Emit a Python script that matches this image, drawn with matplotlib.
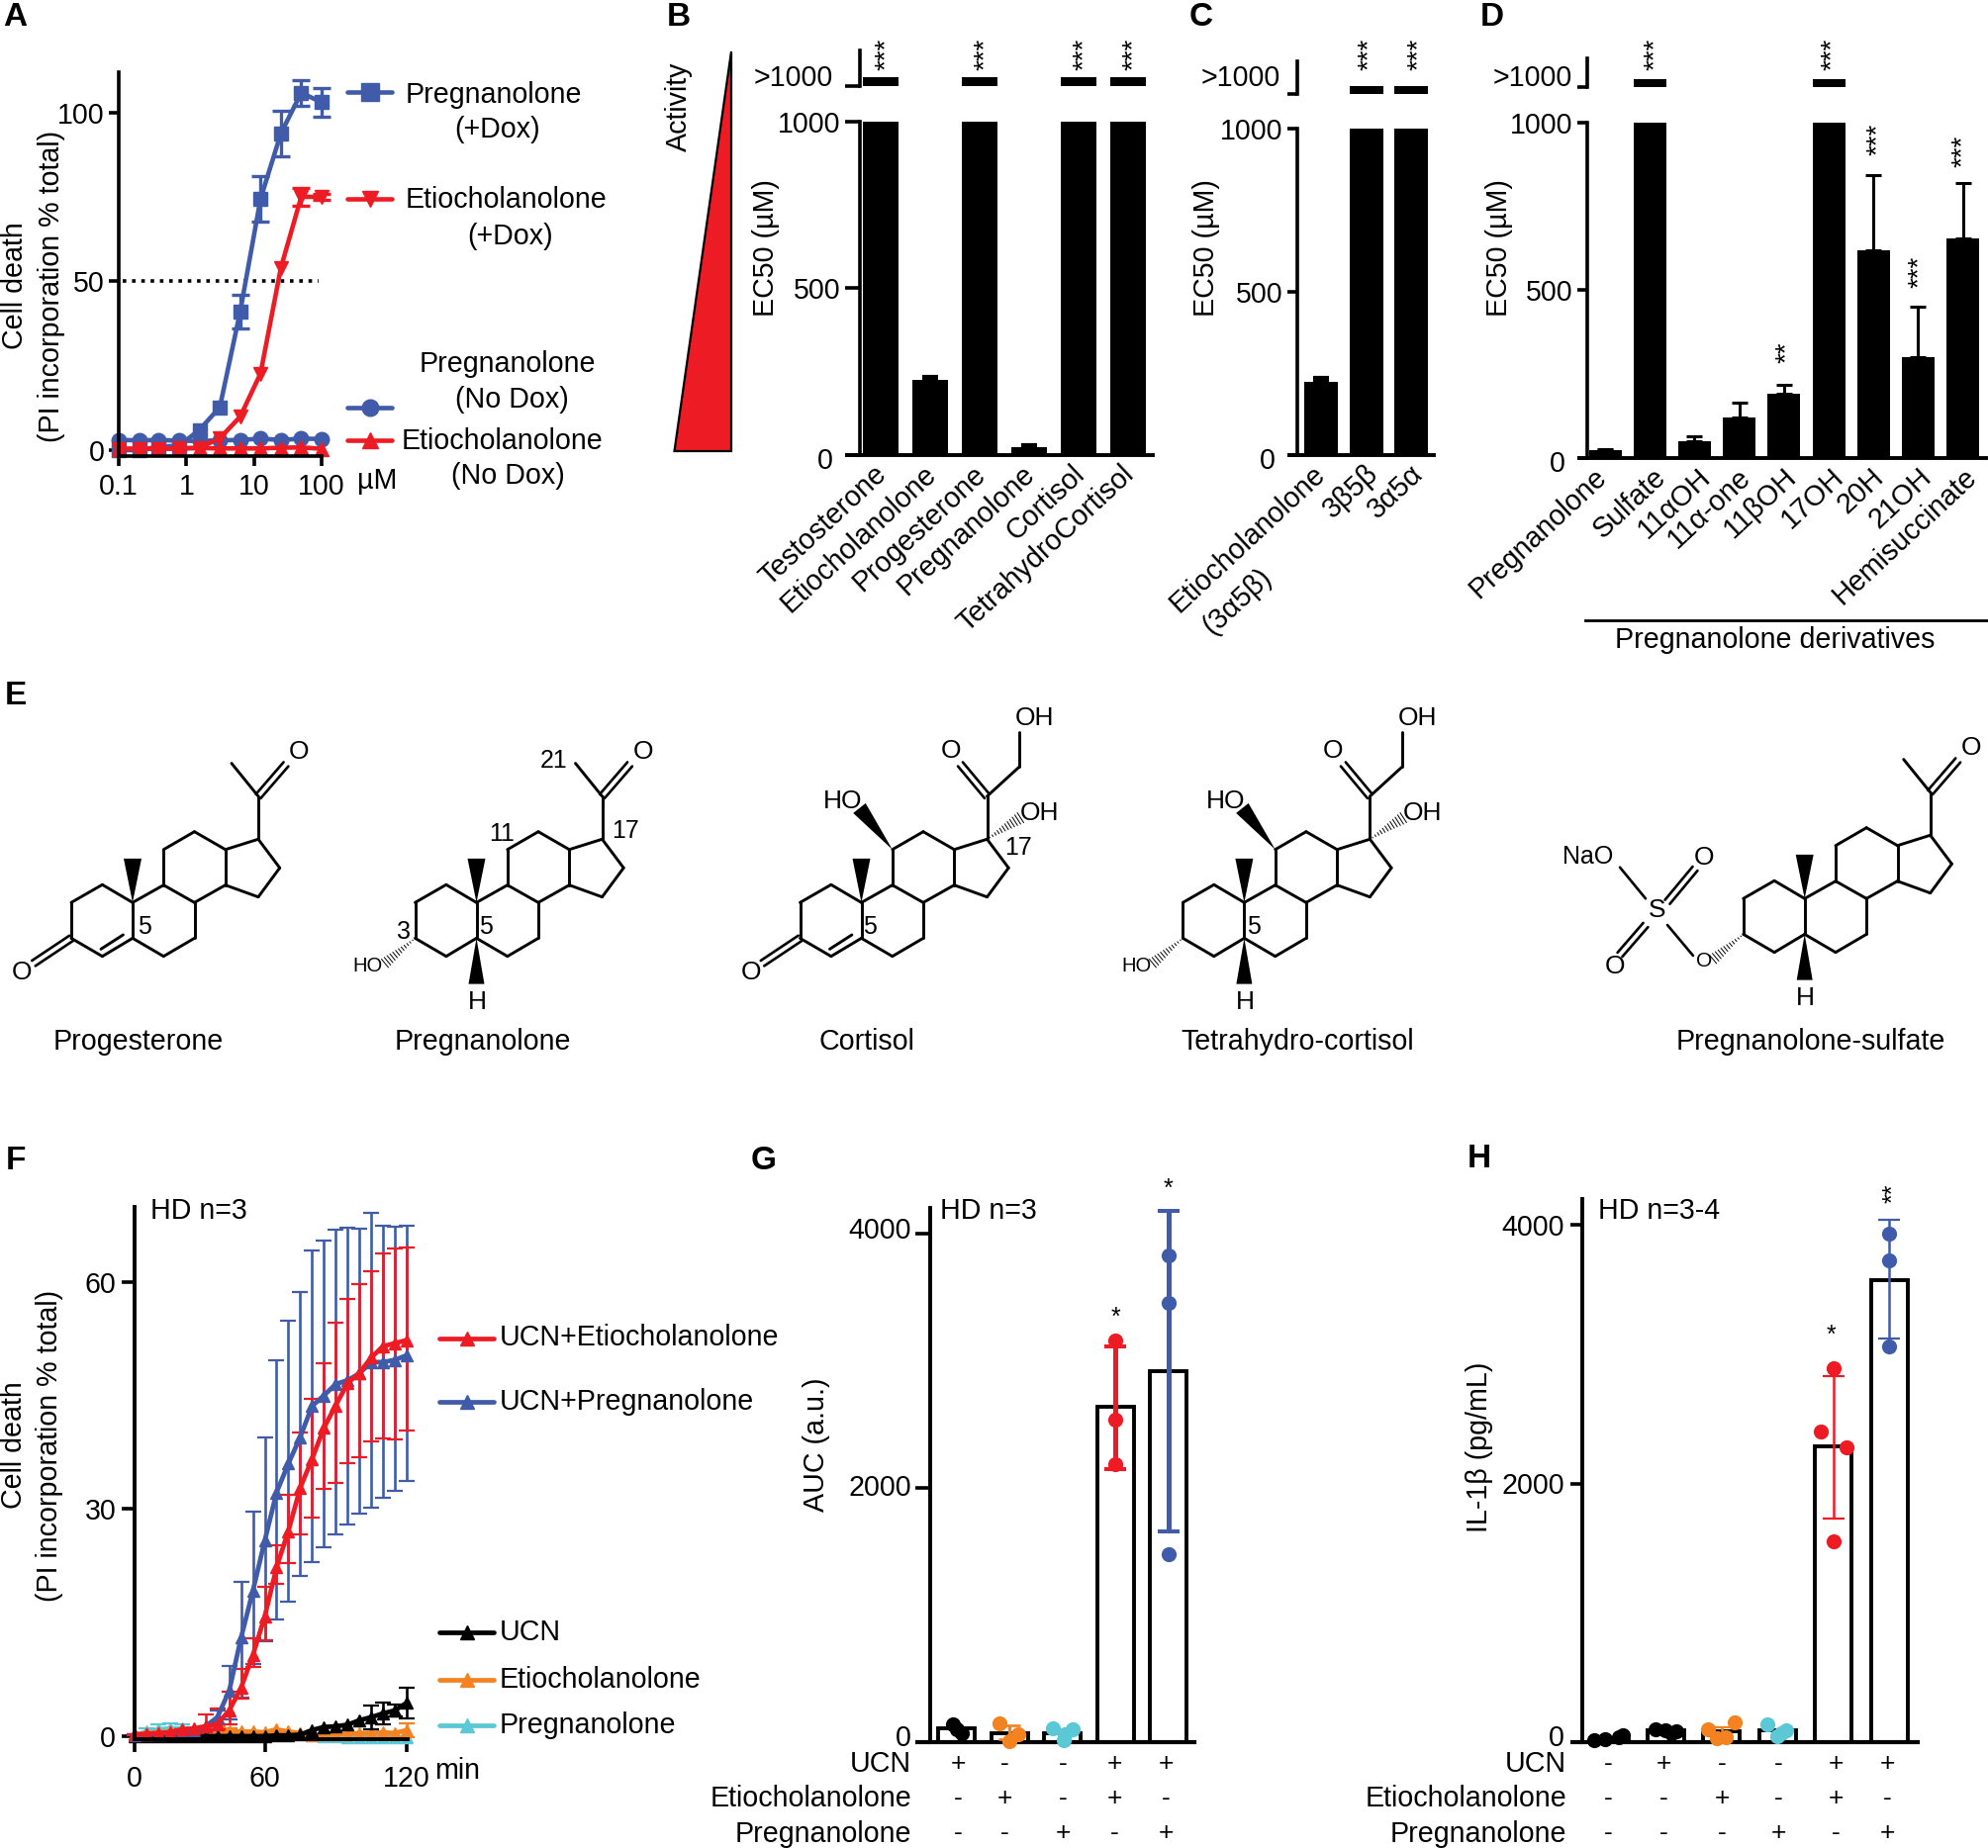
import numpy as np
import matplotlib
matplotlib.use('Agg')
import matplotlib.pyplot as plt
from matplotlib.patches import Polygon
from matplotlib.transforms import ScaledTranslation

plt.rcParams['font.family'] = ['Liberation Sans', 'DejaVu Sans']
plt.rcParams['font.size'] = 20.6

BLUE = '#3F5BA9'
RED = '#ED1C24'
ORANGE = '#F58220'
CYAN = '#5BC8D5'
W, H = 2009, 1868
FS = 20.6

# panel A
doses = [0.1, 0.2, 0.39, 0.78, 1.56, 3.125, 6.25, 12.5, 25, 50, 100]
a_preg_dox = [0, 0, 1, 1.3, 6, 12.7, 41, 74.4, 93.8, 105.8, 103]
a_preg_dox_err = [0, 0, 0, 0, 0, 0, 5, 6.6, 6.7, 3.8, 4.3]
a_etio_dox = [0.3, 0.4, 0.4, 0.5, 0.7, 3.5, 9.9, 22.7, 54, 75, 75]
a_etio_dox_err = [0, 0, 0, 0, 0, 0, 0, 0, 0, 2.6, 0.8]
a_preg_nodox = [3, 2.9, 3, 2.8, 2.7, 2.9, 3, 3.4, 3, 3.4, 3.3]
a_etio_nodox = [0.4, 0.4, 0.4, 0.5, 0.6, 0.5, 0.5, 0.5, 0.7, 0.8, 0.4]

# panels B, C, D (values above 1000 sit on the broken part of the axis)
b_names = ['Testosterone', 'Etiocholanolone', 'Progesterone', 'Pregnanolone', 'Cortisol', 'TetrahydroCortisol']
b_vals = [1127, 225, 1127, 25, 1127, 1127]
b_errs = [0, 10, 0, 4, 0, 0]
c_names = ['Etiocholanolone', '3β5β', '3α5α']
c_vals = [225, 1124, 1124]
c_errs = [10, 0, 0]
d_names = ['Pregnanolone', 'Sulfate', '11αOH', '11α-one', '11βOH', '17OH', '20H', '21OH', 'Hemisuccinate']
d_vals = [23, 1125, 51, 121, 191, 1125, 620, 301, 655]
d_errs = [4, 0, 14, 45, 26, 0, 223, 151, 164]

# panel F
f_t = [5, 10, 15, 20, 25, 30, 35, 40, 45, 50, 55, 60, 65, 70, 75, 80, 85, 90, 95, 100, 105, 110, 115, 120]
f_red = [0.2, 0.3, 0.4, 0.5, 0.9, 1.0, 1.3, 1.6, 3.4, 6.4, 10.7, 15.8, 22.3, 27.1, 32.8, 36.6, 40.7, 43.7, 46.6, 48, 50, 51.5, 51.9, 52.3]
f_red_up = [0.2, 0.3, 0.4, 0.5, 0.9, 1.0, 2.9, 3.7, 5.9, 8.9, 12.9, 19.7, 25.2, 31.9, 40.1, 44.6, 49.2, 54.6, 57.7, 59.7, 61.4, 63.8, 64.4, 64.6]
f_red_lo = [0.2, 0.3, 0.4, 0.5, 0.9, 1.0, 0.8, 0.9, 1.6, 5, 9.2, 12.7, 20.1, 22.8, 26.6, 28.9, 32.6, 33.5, 36, 36.9, 38.9, 39.3, 39.2, 40.4]
f_blue = [0.1, 0.2, 0.3, 0.4, 0.5, 0.6, 1.3, 2.5, 6, 13, 19.2, 25.8, 32.2, 36, 39.5, 43.6, 45, 46.5, 47, 47.9, 49.4, 49.4, 49.7, 50.3]
f_blue_up = [0.1, 0.2, 0.3, 0.4, 0.5, 0.6, 1.3, 3.4, 9.3, 20.4, 29.7, 39.5, 49.7, 54.9, 58.7, 64.2, 65.5, 66.9, 67.2, 67, 69.1, 67.4, 67.3, 67.4]
f_blue_lo = [0.1, 0.2, 0.3, 0.4, 0.5, 0.6, 1.3, 1.6, 2.2, 5.1, 9.5, 12.6, 15.4, 17.8, 21.1, 23, 25, 26.7, 28, 29.4, 30.2, 31.5, 32.4, 33.7]
f_black = [0, 0, 0, 0, 0, 0, 0, 0, 0, 0, 0, 0, 0.1, 0.1, 0.2, 0.8, 1.2, 1.3, 1.5, 2.1, 2.5, 3, 3.4, 4.4]
f_black_err = [0, 0, 0, 0, 0, 0, 0, 0, 0, 0, 0, 0, 0, 0, 0, 0, 0, 0, 0, 0, 1.6, 1.4, 0.8, 2]
f_orange = [0.2, 0.4, 0.5, 0.6, 0.6, 0.7, 0.7, 0.8, 0.7, 0.6, 0.6, 0.5, 0.9, 0.6, 0.4, 0.1, 0.2, 0.3, 0.3, 0.4, 0.4, 0.5, 0.4, 0.8]
f_orange_err = [0, 0, 0, 0, 0, 0, 0.3, 0.5, 0.3, 0, 0, 0, 0, 0, 0, 0, 0, 0, 0, 0, 0, 0, 0, 0.9]
f_cyan = [0.1, 0.6, 0.9, 1.0, 1.0, 0.9, 0.8, 0.5, 0.4, 0.5, 0.4, 0.3, 0.3, 0.3, 0.4, 0.1, 0, 0, -0.1, -0.1, -0.1, -0.1, -0.1, -0.2]
f_cyan_err = [0, 0.4, 0.7, 0.7, 0.5, 0.3, 0, 0, 0, 0, 0, 0, 0, 0, 0, 0, 0, 0, 0, 0, 0, 0, 0, 0]

# panels G, H
g_bars = [112, 72, 72, 2636, 2922]
g_points = [[137, 101, 72], [145, 65, 11], [108, 100, 60, 15], [3157, 2535, 2188], [3826, 3454, 1476]]
g_point_dx = [[-3, 0, 4], [-8, 7, 0], [-7, 8, 2, 1], [0, 0, 0], [0, 0, 0]]
g_up = [None, 135, None, 3110, 4180]
g_lo = [None, 20, None, 2145, 1656]
g_sign_rows = [['+', '-', '-', '+', '+'], ['-', '+', '-', '+', '-'], ['-', '-', '+', '-', '+']]
h_bars = [15, 92, 81, 88, 2287, 3575]
h_points = [[25, 40, 50, 15], [99, 81, 92, 71], [152, 99, 28, 35], [135, 92, 70, 46], [2888, 2400, 2276, 1550], [3929, 3727, 3062]]
h_point_dx = [[-4, 7, 10, -12], [-8, 8, 0, 4], [10, -11, -4, 3], [-8, 7, 3, 0], [0, -10, 10, 0], [0, 0, 0]]
h_up = [None, None, 115, None, 2832, 4035]
h_lo = [None, None, 50, None, 1727, 3119]
h_sign_rows = [['-', '+', '-', '-', '+', '+'], ['-', '-', '+', '-', '+', '-'], ['-', '-', '-', '+', '-', '+']]
row_names = ['UCN', 'Etiocholanolone', 'Pregnanolone']


fig = plt.figure(figsize=(W / 100, H / 100), dpi=100)


def px_axes(x0, ytop, x1, ybot):
    ax = fig.add_axes([x0 / W, 1 - ybot / H, (x1 - x0) / W, (ybot - ytop) / H])
    ax.patch.set_visible(False)
    ax.spines[['top', 'right']].set_visible(False)
    return ax


over = fig.add_axes([0, 0, 1, 1], zorder=20)
over.set_xlim(0, W)
over.set_ylim(H, 0)
over.axis('off')


def txt(x, y, s, ha='center', rot=0, fs=FS, **kw):
    over.text(x, y, s, ha=ha, va='center', rotation=rot, fontsize=fs, **kw)


for lab, x, y in [('A', 15, 17), ('B', 686, 17), ('C', 1214, 17), ('D', 1508, 17), ('E', 16, 703),
                  ('F', 16, 1173), ('G', 772, 1173), ('H', 1495, 1172)]:
    txt(x, y, lab, fs=24, fontweight='bold')


def key(x0, x1, y, color, marker, ms=11, lw=3.3):
    over.plot([x0, x1], [y, y], color=color, lw=lw, solid_capstyle='round')
    over.plot([(x0 + x1) / 2], [y], marker=marker, color=color, ms=ms, ls='none')


def curve(ax, x, y, err, color, marker, ms, lw, elw, cap, ct):
    # caps only where there is an error to show
    x = np.array(x, float)
    y = np.array(y, float)
    ax.plot(x, y, color=color, marker=marker, ms=ms, lw=lw, clip_on=False)
    if err is not None:
        err = np.array(err, float)
        keep = err > 0
        ax.errorbar(x[keep], y[keep], yerr=err[keep], fmt='none', ecolor=color, elinewidth=elw, capsize=cap, capthick=ct, clip_on=False)


# ---- A
ax = px_axes(120, 73, 325, 461)
ax.set_xscale('log')
ax.set_xlim(0.1, 100)
ax.set_ylim(-1.76, 111.9)
ax.plot([0.115, 90], [50, 50], color='k', lw=2.6, ls=(0, (1, 1.6)))
for vals, errs, c, m in [(a_preg_nodox, None, BLUE, 'o'), (a_preg_dox, a_preg_dox_err, BLUE, 's'),
                         (a_etio_dox, a_etio_dox_err, RED, 'v'), (a_etio_nodox, None, RED, '^')]:
    curve(ax, doses, vals, errs, c, m, 10.5, 3.3, 2.4, 6.5, 2.4)
ax.set_xticks([0.1, 1, 10, 100], ['0.1', '1', '10', '100'])
ax.minorticks_off()
ax.set_yticks([0, 50, 100])
ax.tick_params(length=7.5, width=2.6, pad=3, labelsize=FS)
ax.tick_params(axis='x', pad=5)
ax.spines[['left', 'bottom']].set_linewidth(2.6)
txt(15, 289, 'Cell death', rot=90)
txt(52, 289, '(PI incorporation % total)', rot=90)
txt(381, 486, 'µM')
for x, y, s in [(499, 96, 'Pregnanolone'), (503, 131, '(+Dox)'), (511, 202, 'Etiocholanolone'), (516, 239, '(+Dox)'),
                (513, 368, 'Pregnanolone'), (517, 404, '(No Dox)'), (508, 446, 'Etiocholanolone'), (513, 481, '(No Dox)')]:
    txt(x, y, s)
key(351, 396, 93, BLUE, 's', 13)
key(351, 396, 201, RED, 'v', 11)
key(351, 396, 412, BLUE, 'o', 12)
key(351, 396, 445, RED, '^', 11)


# ---- B, C, D
def ec50(x_axis, x_right, x_tick, y0, y1000, up_top, up_bot, c0, step, bw, vals, errs, names, name_dx, name_dy, lw, ycap, gt_right):
    per_px = 1000 / (y0 - y1000)
    low = px_axes(x_axis, y1000, x_right, y0)
    up = px_axes(x_axis, up_top, x_right, up_bot)
    pos = np.arange(len(vals))
    xl = ((x_axis - c0) / step, (x_right - c0) / step)
    low.bar(pos, vals, bw / step, color='k')
    low.errorbar(pos, vals, yerr=[[0] * len(errs), errs], fmt='none', ecolor='k', elinewidth=lw, capsize=ycap, capthick=lw)
    up.bar(pos, vals, bw / step, color='k')
    low.set_xlim(xl)
    up.set_xlim(xl)
    low.set_ylim(0, 1000)
    up.set_ylim(1100, 1100 + (up_bot - up_top) * per_px)
    up.spines['bottom'].set_visible(False)
    up.set_xticks([])
    up.set_yticks([1100], [''])
    low.set_xticks([])
    low.set_yticks([0, 500, 1000])
    tl = (x_axis - x_tick) / 100 * 72
    for a in (low, up):
        a.tick_params(axis='y', length=tl, width=2.6, pad=3.5, labelsize=FS)
        a.spines['left'].set_linewidth(2.6)
    low.spines['bottom'].set_linewidth(2.8)
    # the zero label sits a little lower and further left than its tick
    zero = low.get_yticklabels()[0]
    zero.set_transform(zero.get_transform() + ScaledTranslation(-0.07, -0.03, fig.dpi_scale_trans))
    over.plot([x_tick, x_axis], [y0, y0], color='k', lw=2.8, solid_capstyle='butt')
    txt(gt_right, 79, '>1000', ha='right')
    for i, s in enumerate(names):
        low.annotate(s, (i, 0), xycoords=('data', 'axes fraction'), xytext=(name_dx[i], name_dy), textcoords='offset pixels',
                     rotation=43, ha='right', va='center', rotation_mode='anchor', fontsize=FS, annotation_clip=False)


ec50(869, 1165, 854, 460, 122.7, 51, 87, 890, 50, 36.5, b_vals, b_errs, b_names, [2] * 6, -15, 3, 6, 842)
ec50(1311, 1449, 1301, 460, 130, 62, 95.4, 1335, 45.5, 34, c_vals, c_errs, c_names, [0, 8, 8], -15, 3, 6, 1294)
ec50(1604, 2007, 1594, 463, 123.6, 58.5, 88, 1622, 45.2, 33, d_vals, d_errs, d_names, [-2, 12, 12, 8, 9, 11, 6, 9, 10], -15, 2.2, 6, 1589)
txt(1250, 608, '(3α5β)', rot=43)
txt(774, 251, 'EC50 (µM)', rot=90)
txt(1219, 251, 'EC50 (µM)', rot=90)
txt(1515, 251, 'EC50 (µM)', rot=90)
txt(686, 108, 'Activity', rot=90)
over.add_patch(Polygon([(681.5, 456), (739, 52), (739, 456)], closed=True, fc=RED, ec='k', lw=1.6))
for x, y, s in [(896, 55, '***'), (996, 55, '***'), (1096, 55, '***'), (1146, 55, '***'), (1384, 55, '***'), (1434, 55, '***'),
                (1673, 55, '***'), (1852, 55, '***'), (1898, 141, '***'), (1940, 275, '***'), (1984, 153, '***'), (1806, 356, '**')]:
    txt(x, y, s, rot=90, fs=20)
over.plot([1602, 2008], [626.5, 626.5], color='k', lw=2)
txt(1794, 647, 'Pregnanolone derivatives')

# ---- E molecules, atom positions relative to the ring junction carbon
MY = 3.92 / 3
RING = {'a': (-62, 0), 'b': (-30.6, -13.8), 'c': (0, 0), 'd': (0, 27.6), 'e': (-30.6, 41.6), 'f': (-62, 27.6),
        'g': (31.3, -13.5), 'h': (62.5, 0), 'i': (62.5, 27.6), 'j': (31.3, 41.6), 'k': (31.3, -41), 'l': (62.5, -54.8),
        'm': (93.8, -41), 'n': (93.8, -13.5), 'o': (127, -49), 'p': (148.7, -26.8), 'q': (127, -4.3), 'r': (127, -82.2)}
CHAIN = 'a b c d e f a'.split(), 'c g h i j d'.split(), 'g k l m n h'.split(), 'm o p q n'.split(), 'o r'.split()


def P(ox, oy, p):
    return np.array([ox + p[0], oy + p[1] * MY], float)


def seg(a, b, lw=2.1):
    over.plot([a[0], b[0]], [a[1], b[1]], color='k', lw=lw, solid_capstyle='round')


def dseg(a, b, off=3.2, lw=1.9):
    a, b = np.array(a, float), np.array(b, float)
    d = b - a
    n = np.array([-d[1], d[0]]) / np.hypot(*d) * off
    seg(a + n, b + n, lw)
    seg(a - n, b - n, lw)


def wedge(ox, oy, tip, base, hw):
    t, b = P(ox, oy, tip), P(ox, oy, base)
    d = b - t
    n = np.array([-d[1], d[0]]) / np.hypot(*d) * hw
    over.add_patch(Polygon([t, b + n, b - n], closed=True, fc='k', ec='none'))


def hashed(ox, oy, tip, base, hw, count=12):
    t, b = P(ox, oy, tip), P(ox, oy, base)
    d = b - t
    n = np.array([-d[1], d[0]]) / np.hypot(*d)
    for f in np.linspace(0.08, 1, count):
        c = t + d * f
        seg(c - n * hw * f, c + n * hw * f, 0.7)


def at(ox, oy, dx, dy, s, fs=19):
    txt(ox + dx, oy + dy * MY, s, fs=fs)


def skeleton(ox, oy, unsat=False):
    for chain in CHAIN:
        for u, v in zip(chain[:-1], chain[1:]):
            seg(P(ox, oy, RING[u]), P(ox, oy, RING[v]))
    wedge(ox, oy, RING['c'], (0, -34), 9)
    if unsat:
        seg(P(ox, oy, (-32, 36)), P(ox, oy, (-9.6, 25)))
        dseg(P(ox, oy, RING['f']), P(ox, oy, (-100, 47)))
        at(ox, oy, -111.6, 54.3, 'O')
    else:
        wedge(ox, oy, RING['d'], (0, 63), 8)
        at(ox, oy, 1, 77, 'H', 19)
        hashed(ox, oy, RING['f'], (-92.5, 47), 5.5)


def acetyl(ox, oy):
    seg(P(ox, oy, RING['r']), P(ox, oy, (100, -107.7)))
    dseg(P(ox, oy, RING['r']), P(ox, oy, (155, -107)))
    at(ox, oy, 168.4, -116.6, 'O')


def hydroxy_chain(ox, oy):
    dseg(P(ox, oy, RING['r']), P(ox, oy, (100, -107)))
    seg(P(ox, oy, RING['r']), P(ox, oy, (159.6, -105)))
    seg(P(ox, oy, (159.6, -105)), P(ox, oy, (159.6, -132)))
    at(ox, oy, 90, -117.3, 'O')
    at(ox, oy, 175, -142.6, 'OH')
    hashed(ox, oy, RING['o'], (160.8, -65.6), 6)
    at(ox, oy, 180, -69.4, 'OH')
    wedge(ox, oy, RING['k'], (-2, -73), 8)
    at(ox, oy, -19, -78, 'HO')


MOL_Y = 912.3
NAME_Y = 1052.7

skeleton(134, MOL_Y, True)
acetyl(134, MOL_Y)
at(134, MOL_Y, 11.5, 19, '5', 18)
txt(140, NAME_Y, 'Progesterone')

skeleton(481.5, MOL_Y)
acetyl(481.5, MOL_Y)
for dx, dy, s in [(78.4, -110, '21'), (150, -55, '17'), (25.5, -52.8, '11'), (-73.3, 22.4, '3'), (9.6, 18.6, '5')]:
    at(481.5, MOL_Y, dx, dy, s, 18)
at(481.5, MOL_Y, -109.7, 49.2, 'HO', 14.5)
txt(488, NAME_Y, 'Pregnanolone')

skeleton(870.5, MOL_Y, True)
hydroxy_chain(870.5, MOL_Y)
at(870.5, MOL_Y, 8.3, 18.6, '5', 18)
at(870.5, MOL_Y, 158.5, -42, '17', 18)
txt(875.6, NAME_Y, 'Cortisol')

skeleton(1257.4, MOL_Y)
hydroxy_chain(1257.4, MOL_Y)
at(1257.4, MOL_Y, 9.6, 18.6, '5', 18)
at(1257.4, MOL_Y, -109, 49.2, 'HO', 14.5)
txt(1310.8, NAME_Y, 'Tetrahydro-cortisol')

skeleton(1823.7, 908.3)
acetyl(1823.7, 908.3)
txt(1722, 971.7, 'O', fs=15)
txt(1674.4, 920, 'S', fs=19)
txt(1605, 866, 'NaO', fs=18)
txt(1722, 866.7, 'O', fs=19)
txt(1632, 976.7, 'O', fs=19)
seg((1637, 876.7), (1663, 908.3), 1.9)
seg((1685, 935), (1711, 966), 1.9)
dseg((1685, 911.7), (1713, 878))
dseg((1663, 935), (1637, 965))
txt(1830, NAME_Y, 'Pregnanolone-sulfate')

# ---- F
ax = px_axes(136, 1220, 411.5, 1758)
ax.set_xlim(5, 120.2)
ax.set_ylim(-0.4, 69.9)
t = np.array(f_t)
for vals, err, c in [(f_cyan, f_cyan_err, CYAN), (f_orange, f_orange_err, ORANGE)]:
    curve(ax, t, vals, err, c, '^', 8.5, 3.4, 1.9, 5.5, 1.6)
ek = dict(lw=3.4, marker='^', ms=8.5, elinewidth=1.9, capsize=5.5, capthick=1.6, clip_on=False)
blue = np.array(f_blue)
red = np.array(f_red)
ax.errorbar(t, blue, yerr=[blue - np.array(f_blue_lo), np.array(f_blue_up) - blue], color=BLUE, **ek)
ax.errorbar(t, red, yerr=[red - np.array(f_red_lo), np.array(f_red_up) - red], color=RED, **ek)
curve(ax, t, f_black, f_black_err, 'k', '^', 8.5, 3.4, 1.9, 5.5, 1.6)
ax.set_xticks([5, 60, 120], ['0', '60', '120'])
ax.set_yticks([0, 30, 60])
ax.tick_params(length=9.5, width=2.6, pad=4, labelsize=FS)
ax.tick_params(axis='x', pad=9)
ax.spines[['left', 'bottom']].set_linewidth(2.8)
txt(152, 1224, 'HD n=3', ha='left')
txt(14, 1461, 'Cell death', rot=90)
txt(50, 1461, '(PI incorporation % total)', rot=90)
txt(439, 1790, 'min', ha='left')
for y, c, s in [(1352.5, RED, 'UCN+Etiocholanolone'), (1417, BLUE, 'UCN+Pregnanolone'), (1650, 'k', 'UCN'),
                (1698, ORANGE, 'Etiocholanolone'), (1743.6, CYAN, 'Pregnanolone')]:
    key(444, 499, y, c, '^', 10, 3.4)
    txt(505, y, s, ha='left')


# ---- G, H
def dots(x_axis, x_right, x_tick, top, y0, per_px, c0, step, bars, points, pdx, up, lo, colors, elw, signs, sign_x, label_x, tick_y, tick_right):
    ax = px_axes(x_axis, top, x_right, y0)
    pos = np.arange(len(bars))
    ax.bar(pos, bars, 37 / step, color='white', edgecolor='k', linewidth=2.8)
    ax.set_xlim((x_axis - c0) / step, (x_right - c0) / step)
    ax.set_ylim(0, (y0 - top) * per_px)
    for i, pts in enumerate(points):
        ax.scatter(i + np.array(pdx[i]) / step * 1.3, pts, s=120, color=colors[i], zorder=4, clip_on=False, linewidths=0)
        if up[i] is not None:
            ax.errorbar(i, bars[i], yerr=[[bars[i] - lo[i]], [up[i] - bars[i]]], color=colors[i], elinewidth=elw[i], capsize=8, capthick=max(elw[i] * 0.8, 1.6), zorder=3, clip_on=False)
    ax.set_xticks([])
    ax.set_yticks([0, 2000, 4000], ['', '', ''])
    ax.tick_params(axis='y', length=(x_axis - x_tick) / 100 * 72, width=2.6)
    ax.spines['left'].set_linewidth(2.8)
    ax.spines['bottom'].set_linewidth(3)
    over.plot([x_tick, x_axis], [y0, y0], color='k', lw=3, solid_capstyle='butt')
    for y, s in zip(tick_y, ['0', '2000', '4000']):
        txt(tick_right, y, s, ha='right')
    for y, name, row in zip([1783, 1818, 1853.5], row_names, signs):
        txt(label_x, y, name, ha='right')
        for x, s in zip(sign_x, row):
            txt(x, y, s, fs=19)


dots(940, 1207, 925, 1221, 1761, 2000 / 257, 966.5, 53.5, g_bars, g_points, g_point_dx, g_up, g_lo,
     ['k', ORANGE, CYAN, RED, BLUE], [0, 2.4, 0, 3.6, 3.6], g_sign_rows, [968, 1015, 1074, 1126, 1178], 921, [1757, 1504, 1244], 921)
dots(1599, 1938, 1587, 1212, 1761, 2000 / 261.5, 1627, 56.4, h_bars, h_points, h_point_dx, h_up, h_lo,
     ['k', 'k', ORANGE, CYAN, RED, BLUE], [0, 0, 1.8, 0, 1.8, 1.8], h_sign_rows, [1625, 1681, 1740, 1797, 1855, 1907], 1583, [1757, 1502, 1241], 1581)
txt(950, 1224.5, 'HD n=3', ha='left')
txt(1614.6, 1224.5, 'HD n=3-4', ha='left')
txt(825, 1460, 'AUC (a.u.)', rot=90)
txt(1495, 1463, 'IL-1β (pg/mL)', rot=90)
txt(1127, 1332, '*', fs=18)
txt(1180, 1202, '*', fs=18)
txt(1850, 1350, '*', fs=18)
txt(1913, 1206, '**', rot=90, fs=18)

fig.savefig('out.png', dpi=100)
